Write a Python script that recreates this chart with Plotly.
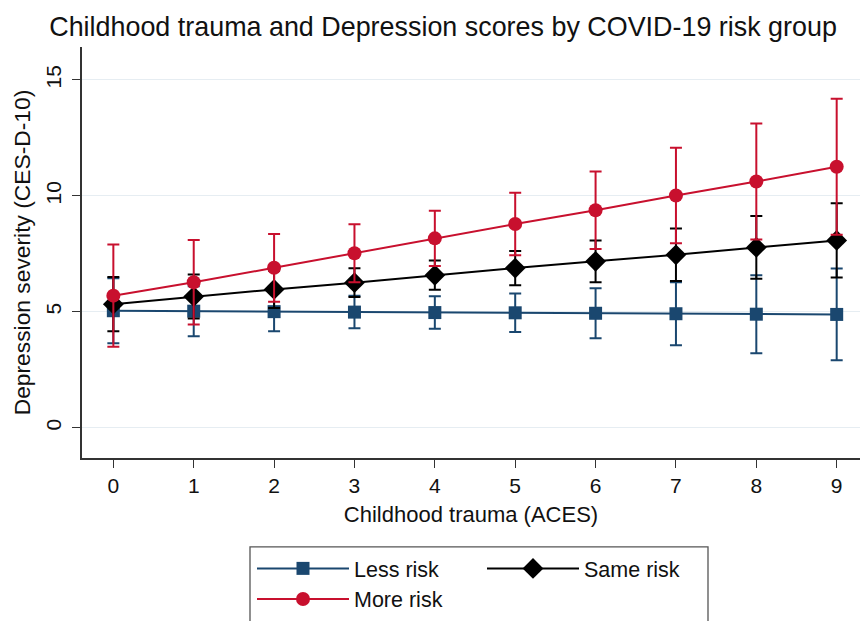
import plotly.graph_objects as go

aces = [0, 1, 2, 3, 4, 5, 6, 7, 8, 9]
x_ticks = ["0", "1", "2", "3", "4", "5", "6", "7", "8", "9"]

less_mean = [5.05, 5.03, 5.01, 4.99, 4.97, 4.96, 4.94, 4.92, 4.90, 4.89]
less_ci = [1.40, 1.08, 0.84, 0.70, 0.70, 0.83, 1.08, 1.36, 1.68, 1.98]

same_mean = [5.33, 5.66, 5.97, 6.26, 6.58, 6.89, 7.18, 7.46, 7.78, 8.08]
same_ci = [1.17, 0.95, 0.80, 0.62, 0.63, 0.74, 0.90, 1.13, 1.35, 1.60]

more_mean = [5.70, 6.28, 6.90, 7.53, 8.17, 8.79, 9.38, 10.02, 10.62, 11.26]
more_ci = [2.20, 1.82, 1.46, 1.25, 1.19, 1.35, 1.67, 2.06, 2.50, 2.93]

y_ticks = [0, 5, 10, 15]

BLUE = "#1a476f"
RED = "#c8102e"
BLACK = "#000000"
FONT = "Liberation Sans, Arial, sans-serif"

W, H = 862, 621
ML, MR, MT, MB = 82, 2, 47, 158
PW, PH = W - ML - MR, H - MT - MB

def px_x(px):
    return (px - ML) / PW

def px_y(py):
    return (H - MB - py) / PH

fig = go.Figure()

def add(name, mean, ci, color, symbol, size, legend):
    fig.add_trace(go.Scatter(
        x=aces, y=mean, name=name, mode="lines+markers", legend=legend,
        line=dict(color=color, width=2),
        marker=dict(color=color, symbol=symbol, size=size),
        error_y=dict(type="data", array=ci, symmetric=True, color=color,
                     thickness=2, width=6),
    ))

add("Less risk", less_mean, less_ci, BLUE, "square", 13, "legend")
add("Same risk", same_mean, same_ci, BLACK, "diamond", 16, "legend")
add("More risk", more_mean, more_ci, RED, "circle", 14, "legend2")

leg_common = dict(orientation="h", xanchor="left", yanchor="top",
                  borderwidth=0, bgcolor="rgba(0,0,0,0)",
                  entrywidth=123, entrywidthmode="pixels", itemwidth=92,
                  font=dict(family=FONT, size=21.5, color="#111111"),
                  traceorder="normal")

fig.add_shape(type="rect", xref="paper", yref="paper",
              x0=px_x(250), x1=px_x(708), y0=px_y(640), y1=px_y(553),
              line=dict(color="#555555", width=1.3), fillcolor="white", layer="below")

fig.update_layout(
    width=W, height=H,
    paper_bgcolor="white", plot_bgcolor="white",
    font=dict(family=FONT, size=21, color="#111111"),
    margin=dict(l=ML, r=MR, t=MT, b=MB),
    title=dict(text="Childhood trauma and Depression scores by COVID-19 risk group",
               x=0.514, xanchor="center", y=0.9565, yanchor="middle",
               font=dict(family=FONT, size=26.9, color="#111111")),
    showlegend=True,
    legend=dict(x=px_x(252), y=px_y(554), **leg_common),
    legend2=dict(x=px_x(252), y=px_y(585), **leg_common),
    xaxis=dict(range=[-0.39, 9.29], tickvals=aces, ticktext=x_ticks, automargin=False,
               showgrid=False, zeroline=False, showline=True, linecolor="#333333",
               linewidth=1.5, ticks="outside", ticklen=8, tickcolor="#333333",
               tickfont=dict(size=21),
               title=dict(text="Childhood trauma (ACES)", font=dict(size=22), standoff=11)),
    yaxis=dict(range=[-1.3, 16.42], tickvals=y_ticks, ticktext=[str(v) for v in y_ticks],
               automargin=False,
               showgrid=True, gridcolor="#e6edf2", gridwidth=1.2, zeroline=False,
               showline=True, linecolor="#333333", linewidth=1.5,
               ticks="outside", ticklen=8, tickcolor="#333333", tickangle=-90,
               ticklabelstandoff=3,
               tickfont=dict(size=21),
               title=dict(text="Depression severity (CES-D-10)", font=dict(size=22.8), standoff=5)),
)

fig.write_html(
    "out.html", config={"displayModeBar": False},
    post_script=("document.body.style.margin='0px';"
                 "document.body.style.overflow='hidden';"
                 "document.documentElement.style.overflow='hidden';"),
)
